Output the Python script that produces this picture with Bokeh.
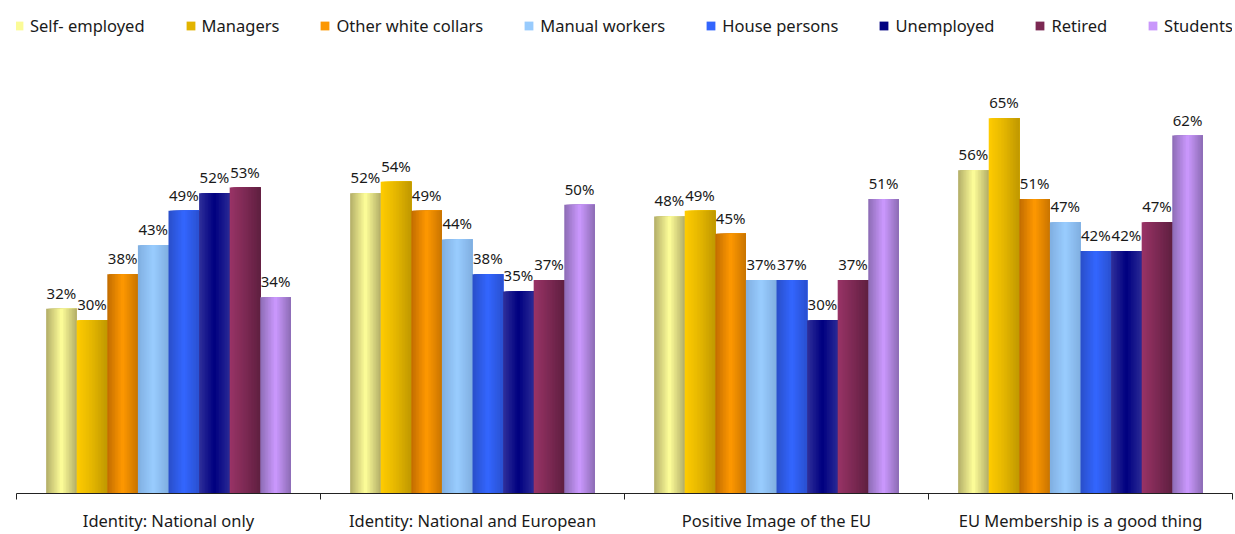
import numpy as np
from bokeh.plotting import figure
from bokeh.models import ColumnDataSource, FixedTicker, Range1d, Legend, LegendItem
from bokeh.embed import file_html
from bokeh.resources import INLINE
from bokeh.core.properties import value

categories = ["Identity: National only", "Identity: National and European",
              "Positive Image of the EU", "EU Membership is a good thing"]
series = ["Self- employed", "Managers", "Other white collars", "Manual workers",
          "House persons", "Unemployed", "Retired", "Students"]
self_employed = [32, 52, 48, 56]
managers = [30, 54, 49, 65]
other_white_collars = [38, 49, 45, 51]
manual_workers = [43, 44, 37, 47]
house_persons = [49, 38, 37, 42]
unemployed = [52, 35, 30, 42]
retired = [53, 37, 37, 47]
students = [34, 50, 51, 62]
series_values = [self_employed, managers, other_white_collars, manual_workers,
                 house_persons, unemployed, retired, students]

# gradient stops (left, centre, right) for each series
gradients = [
    ("#b2ad68", "#ffff99", "#b2ad68"),
    ("#ffcc00", "#e4b600", "#bf9800"),
    ("#c26c00", "#ff9900", "#c87400"),
    ("#80afe0", "#99ccff", "#80afe0"),
    ("#2a4fc8", "#3366ff", "#2a50d0"),
    ("#30309a", "#000080", "#2a2a95"),
    ("#993366", "#7d2a54", "#5f1f40"),
    ("#8c6cb4", "#cc99ff", "#8c6cb4"),
]

N_SLICES = 20
GROUP = 0.805
BAR_W = GROUP / len(series)
FONT = "Noto Sans"


def hex2rgb(h):
    h = h.lstrip("#")
    return np.array([int(h[i:i + 2], 16) for i in (0, 2, 4)], dtype=float)


def grad_colors(stops, n):
    l, c, r = (hex2rgb(s) for s in stops)
    out = []
    for k in range(n):
        t = (k + 0.5) / n
        if t < 0.5:
            col = l + (c - l) * (t / 0.5)
        else:
            col = c + (r - c) * ((t - 0.5) / 0.5)
        out.append("#%02x%02x%02x" % tuple(int(round(v)) for v in col))
    return out


p = figure(width=1235, height=534, output_backend="svg", toolbar_location=None,
           x_range=Range1d(0, 4), y_range=Range1d(0, 85.4),
           min_border_left=16, min_border_right=3, min_border_top=0, min_border_bottom=40)
p.outline_line_color = None
p.xgrid.grid_line_color = None
p.ygrid.grid_line_color = None
p.yaxis.visible = False
p.background_fill_color = "white"
p.border_fill_color = "white"

legend_items = []
label_x, label_y, label_t = [], [], []
for j, (name, vals, stops) in enumerate(zip(series, series_values, gradients)):
    cols = grad_colors(stops, N_SLICES)
    lefts, rights, tops, colors = [], [], [], []
    for i, v in enumerate(vals):
        bar_left = i + (1 - GROUP) / 2 + j * BAR_W
        bar_right = bar_left + BAR_W
        for k in range(N_SLICES):
            lefts.append(bar_left + k * BAR_W / N_SLICES)
            rights.append(bar_right)
            tops.append(v)
            colors.append(cols[k])
        label_x.append(bar_left + BAR_W / 2)
        label_y.append(v)
        label_t.append(f"{v}%")
    src = ColumnDataSource(dict(left=lefts, right=rights, top=tops, color=colors))
    r = p.quad(left="left", right="right", top="top", bottom=0, source=src,
               fill_color="color", line_color=None)
    legend_items.append(LegendItem(label=name, renderers=[r], index=N_SLICES // 2))

lab_src = ColumnDataSource(dict(x=label_x, y=label_y, t=label_t))
p.text(x="x", y="y", text="t", source=lab_src, text_align="center",
       text_baseline="alphabetic", y_offset=-16,
       text_font=value(FONT), text_font_size="15px", text_color="#1a1a1a")

ax = p.xaxis[0]
ax.ticker = FixedTicker(ticks=[0.5, 1.5, 2.5, 3.5], minor_ticks=[0, 1, 2, 3, 4])
ax.major_label_overrides = {0.5: categories[0], 1.5: categories[1],
                            2.5: categories[2], 3.5: categories[3]}
ax.major_tick_out = 0
ax.major_tick_in = 0
ax.minor_tick_out = 6
ax.minor_tick_in = 0
ax.minor_tick_line_color = "#222222"
ax.axis_line_color = "#222222"
ax.major_label_text_font = FONT
ax.major_label_text_font_size = "16.5px"
ax.major_label_text_color = "#1a1a1a"
ax.major_label_standoff = 9

legend = Legend(items=legend_items, orientation="horizontal", location=(-3, 456),
                glyph_width=11, glyph_height=11, label_standoff=6, spacing=40,
                padding=0, margin=0, border_line_color=None, background_fill_alpha=0,
                label_text_font=FONT, label_text_font_size="16.5px",
                label_text_color="#1a1a1a")
p.add_layout(legend)

open("out.html", "w").write(file_html(p, INLINE))
